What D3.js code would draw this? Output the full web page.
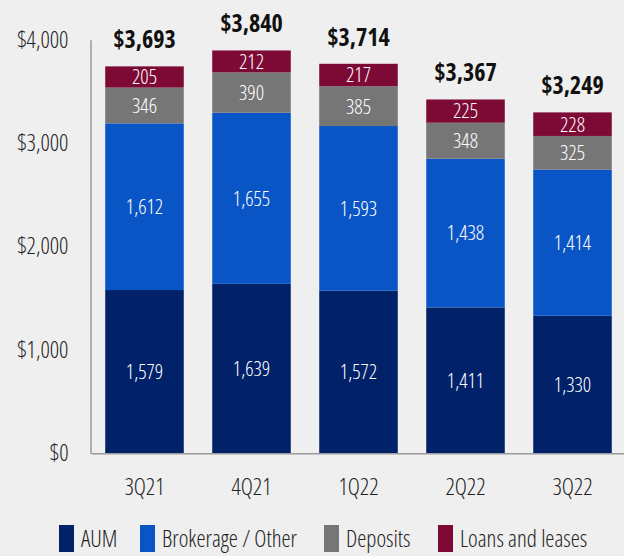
<!DOCTYPE html>
<html>
<head>
<meta charset="utf-8">
<script src="https://cdn.jsdelivr.net/npm/d3@7"></script>
<style>
  html, body { margin: 0; padding: 0; background: #efefef; }
  svg { display: block; }
  text { font-family: "Open Sans", "Liberation Sans Narrow", sans-serif; font-stretch: 75%; }
</style>
</head>
<body>
<svg id="chart" width="624" height="556"></svg>
<script>
// Client balances by quarter ($B)
const quarters = ["3Q21", "4Q21", "1Q22", "2Q22", "3Q22"];
const seriesNames = ["AUM", "Brokerage / Other", "Deposits", "Loans and leases"];
const aum       = [1579, 1639, 1572, 1411, 1330];
const brokerage = [1612, 1655, 1593, 1438, 1414];
const deposits  = [346, 390, 385, 348, 325];
const loans     = [205, 212, 217, 225, 228];
const totals    = [3693, 3840, 3714, 3367, 3249];
const yTicks    = [0, 1000, 2000, 3000, 4000];
const colors    = ["#012169", "#0a55c6", "#767676", "#7c0a34"];

const rows = quarters.map((q, i) => ({
  q,
  "AUM": aum[i],
  "Brokerage / Other": brokerage[i],
  "Deposits": deposits[i],
  "Loans and leases": loans[i],
  total: totals[i]
}));

const svg = d3.select("#chart");
const W = 624, H = 556;
svg.append("rect").attr("width", W).attr("height", H).attr("fill", "#efefef");

const x = d3.scaleBand().domain(quarters).range([91, 626]).paddingInner(0.266).paddingOuter(0.133);
const y = d3.scaleLinear().domain([0, 4000]).range([453.3, 39.7]);
const color = d3.scaleOrdinal().domain(seriesNames).range(colors);

const stacked = d3.stack().keys(seriesNames)(rows);

// Stacked bars
const layers = svg.append("g").selectAll("g").data(stacked).join("g")
  .attr("fill", d => color(d.key));
layers.selectAll("rect").data(d => d).join("rect")
  .attr("x", d => x(d.data.q))
  .attr("width", x.bandwidth())
  .attr("y", d => y(d[1]))
  .attr("height", d => y(d[0]) - y(d[1]));

// Segment value labels, centred in each segment
const fmt = d3.format(",");
const segLabels = svg.append("g").attr("fill", "#fff").attr("font-size", 20.5)
  .attr("font-weight", 300).attr("text-anchor", "middle");
stacked.forEach(layer => {
  segLabels.selectAll(null).data(layer).join("text")
    .attr("x", d => x(d.data.q) + x.bandwidth() / 2)
    .attr("y", d => (y(d[0]) + y(d[1])) / 2)
    .attr("dy", "0.36em")
    .text(d => fmt(d[1] - d[0]));
});

// Totals above bars
svg.append("g").selectAll("text").data(stacked[stacked.length - 1]).join("text")
  .attr("x", d => x(d.data.q) + x.bandwidth() / 2)
  .attr("y", d => y(d[1]) - 18)
  .attr("text-anchor", "middle")
  .attr("font-size", 24)
  .attr("font-weight", 700)
  .attr("fill", "#111")
  .text(d => "$" + fmt(d.data.total));

// Y axis
const yAxis = svg.append("g").attr("transform", "translate(90.5,0)")
  .call(d3.axisLeft(y).tickValues(yTicks).tickSize(0).tickSizeOuter(0).tickPadding(22)
    .tickFormat(d => "$" + fmt(d)));
yAxis.select(".domain").attr("stroke", "#9a9a9a").attr("stroke-width", 1.5);
yAxis.selectAll("text").attr("font-size", 23).attr("font-weight", 300).attr("fill", "#222").attr("font-family", null);

// X axis
const xAxis = svg.append("g").attr("transform", "translate(0,453.3)")
  .call(d3.axisBottom(x).tickSize(0).tickSizeOuter(0).tickPadding(25));
xAxis.select(".domain").attr("stroke", "#9a9a9a").attr("stroke-width", 1.5);
xAxis.selectAll("text").attr("font-size", 23).attr("font-weight", 300).attr("fill", "#222").attr("font-family", null);

// Legend
const legendItems = [
  { name: "AUM", x: 59 },
  { name: "Brokerage / Other", x: 140 },
  { name: "Deposits", x: 324 },
  { name: "Loans and leases", x: 438 }
];
const legend = svg.append("g").selectAll("g").data(legendItems).join("g")
  .attr("transform", d => `translate(${d.x},525)`);
legend.append("rect").attr("width", 15).attr("height", 27).attr("fill", d => color(d.name));
legend.append("text").attr("x", 22).attr("y", 22).attr("font-size", 23).attr("font-weight", 300)
  .attr("fill", "#222").text(d => d.name);
</script>
</body>
</html>
